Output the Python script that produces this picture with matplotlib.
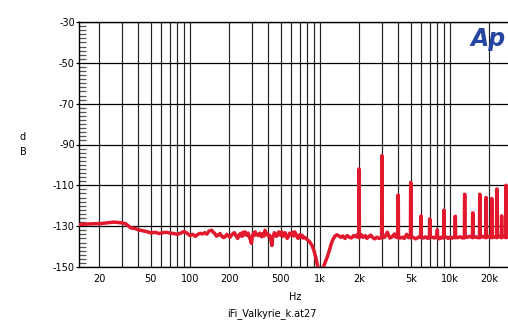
import numpy as np
import matplotlib
matplotlib.use('Agg')
import matplotlib.pyplot as plt
from matplotlib.ticker import FixedLocator, MultipleLocator, NullFormatter

# noise floor (Hz, dB)
floor_freq = [14, 16, 18, 20, 22, 24, 26, 28, 30, 32, 33, 35, 38, 40, 43, 46, 50, 54, 58,
              62, 66, 70, 75, 80, 85, 90, 95, 100, 105, 110, 115, 120, 125, 130, 135, 140, 147,
              151, 155, 160, 165, 170, 175, 181, 187, 192, 198, 203, 209, 214, 220, 226, 233,
              239, 245, 250, 255, 260, 265, 270, 275, 280, 285, 291, 297, 302, 307, 312,
              317, 326, 335, 345, 356, 361, 367, 372, 378, 386, 395, 402, 410, 418, 427, 433,
              440, 446, 452, 463, 475, 482, 490, 500, 509, 520, 530, 540, 550, 560,
              570, 585, 600, 610, 620, 630, 640, 650, 660, 670, 680, 690, 700, 713, 726, 743,
              760, 777, 794, 830, 870, 900, 930, 955,
              975, 1000, 1030, 1060, 1100, 1140, 1180, 1220, 1260, 1300, 1350, 1400, 1450,
              1500, 1560, 1620, 1680, 1750, 1820, 1900, 1950, 2080, 2150, 2230, 2300, 2380,
              2460, 2550, 2640, 2740, 2850, 3150, 3300, 3450, 3600, 3750, 3850, 4150, 4300,
              4450, 4650, 4800, 5200, 5450, 5700, 5850, 6250, 6500, 6750, 7300, 7600, 7850,
              8300, 8600, 8800, 9300, 9700, 10000, 10400, 10800, 11500, 12000, 12500, 13600,
              14300, 15700, 16300, 17800, 18400, 19700, 20400, 22000, 24000, 26000, 28000]
floor_db = [-129.2, -129.0, -128.8, -128.8, -128.5, -128.2, -128.0, -128.2, -128.4, -128.8,
            -129.5, -130.8, -131.2, -131.8, -132.2, -132.6, -133.3, -133.0, -133.6, -133.2,
            -133.0, -133.4, -133.6, -134.0, -133.4, -132.6, -133.5, -134.6, -134.0, -135.0,
            -134.0, -133.5, -133.8, -133.2, -133.9, -132.4, -132.0, -133.0, -133.5, -134.9,
            -134.4, -133.6, -134.8, -135.6, -135.2, -134.0, -134.6, -135.5, -134.4, -133.6,
            -133.2, -134.8, -136.0, -134.2, -133.6, -135.0, -133.0, -134.4, -132.8, -133.8,
            -134.5, -133.4, -135.2, -136.4, -138.4, -135.0, -133.5, -134.6, -132.8, -134.2,
            -134.6, -133.4, -135.2, -134.0, -133.5, -134.8, -132.0, -133.6, -134.0, -135.0,
            -134.4, -136.2, -139.5, -135.6, -134.5, -133.2, -133.6, -135.0, -134.2, -132.8,
            -133.2, -134.6, -132.8, -135.0, -134.0, -133.2, -134.8, -136.0, -135.2, -133.4,
            -133.8, -134.6, -133.0, -134.8, -132.8, -133.6, -134.6, -135.4, -136.0, -134.8,
            -134.2, -135.2, -134.4, -135.8, -135.4, -135.8, -136.5, -137.5, -139.5, -142.0,
            -145.5, -148.8, -151.0, -152.0, -151.5, -150.2, -147.5, -145.0, -142.0, -138.8,
            -136.5, -135.0, -134.2, -134.8, -135.5, -134.8, -136.0, -134.6, -135.4, -135.8,
            -134.6, -135.2, -134.0, -134.2, -135.5, -134.6, -136.0, -135.0, -134.4, -135.6,
            -136.2, -135.4, -136.0, -135.4, -133.0, -135.8, -135.2, -133.8, -135.4, -135.8,
            -135.4, -136.0, -134.0, -135.6, -135.4, -136.2, -135.5, -135.0, -135.8, -135.2,
            -136.0, -135.4, -135.8, -135.0, -136.2, -135.4, -135.8, -135.2, -136.0, -135.4,
            -135.9, -135.2, -135.6, -135.2, -135.8, -135.4, -135.0, -135.2, -135.6, -135.0,
            -135.4, -135.2, -135.0, -135.2, -135.0, -134.8, -135.0]

# harmonic / spurious spikes (Hz, peak dB)
spike_freq = [2000, 3000, 4000, 5000, 6000, 7000, 8000, 9000, 11000, 13000, 15000,
              17000, 19000, 21000, 23000, 25000, 27000]
spike_db = [-102.0, -95.5, -114.8, -108.6, -125.0, -126.5, -131.8, -122.2, -125.2, -114.4,
            -123.5, -114.4, -116.0, -116.5, -111.8, -125.0, -110.0]
spike_base = -135.6

xticks = [20, 50, 100, 200, 500, 1000, 2000, 5000, 10000, 20000]
xtick_labels = ['20', '50', '100', '200', '500', '1k', '2k', '5k', '10k', '20k']
yticks = [-30, -50, -70, -90, -110, -130, -150]

# merge floor and spikes into one trace
pts = list(zip(floor_freq, floor_db))
for f, p in zip(spike_freq, spike_db):
    pts += [(f * 0.994, spike_base), (f * 0.998, p), (f * 1.002, p), (f * 1.006, spike_base)]
pts.sort()
freq = np.array([p[0] for p in pts])
db = np.array([p[1] for p in pts])

plt.rcParams['font.family'] = ['DejaVu Sans']
plt.rcParams['axes.unicode_minus'] = False

fig = plt.figure(figsize=(5.08, 3.22), dpi=100)
ax = fig.add_axes([79 / 508, 55 / 322, 1 - 79 / 508, 245 / 322])

ax.set_xscale('log')
ax.set_xlim(14, 28000)
ax.set_ylim(-150, -30)

# grid
vlines = [20, 30, 40, 50, 60, 70, 80, 90, 100, 200, 300, 400, 500, 600, 700, 800, 900,
          1000, 2000, 3000, 4000, 5000, 6000, 7000, 8000, 9000, 10000, 20000]
for v in vlines:
    ax.axvline(v, color='#222222', lw=0.85, zorder=1)
for h in yticks:
    ax.axhline(h, color='black', lw=0.9, zorder=1)

ax.plot(freq, db, color='#e2182d', lw=2.5, solid_joinstyle='round', zorder=3)

ax.xaxis.set_major_locator(FixedLocator(xticks))
ax.xaxis.set_minor_formatter(NullFormatter())
ax.set_xticklabels(xtick_labels)
ax.tick_params(axis='x', which='both', length=0, labelsize=7, pad=5)

ax.yaxis.set_major_locator(FixedLocator(yticks))
ax.yaxis.set_minor_locator(MultipleLocator(2))
ax.tick_params(axis='y', which='major', direction='out', length=2, width=0.9, labelsize=7, pad=1)
ax.tick_params(axis='y', which='minor', direction='in', length=5, width=0.9, color='#555555')

for s in ['top', 'left', 'bottom']:
    ax.spines[s].set_linewidth(1.0)
ax.spines['right'].set_visible(False)

fig.text(23 / 508, 1 - 137 / 322, 'd', ha='center', va='center', fontsize=7)
fig.text(23 / 508, 1 - 152 / 322, 'B', ha='center', va='center', fontsize=7)
fig.text(295 / 508, 1 - 297 / 322, 'Hz', ha='center', va='center', fontsize=7)
fig.text(272 / 508, 1 - 314 / 322, 'iFi_Valkyrie_k.at27', ha='center', va='center', fontsize=7)

fig.text(506 / 508, 1 - 46 / 322, 'Ap', ha='right', va='baseline', fontsize=17,
         fontweight='bold', fontstyle='italic', color='#2546a0', zorder=5)

fig.savefig('out.png', dpi=100)
